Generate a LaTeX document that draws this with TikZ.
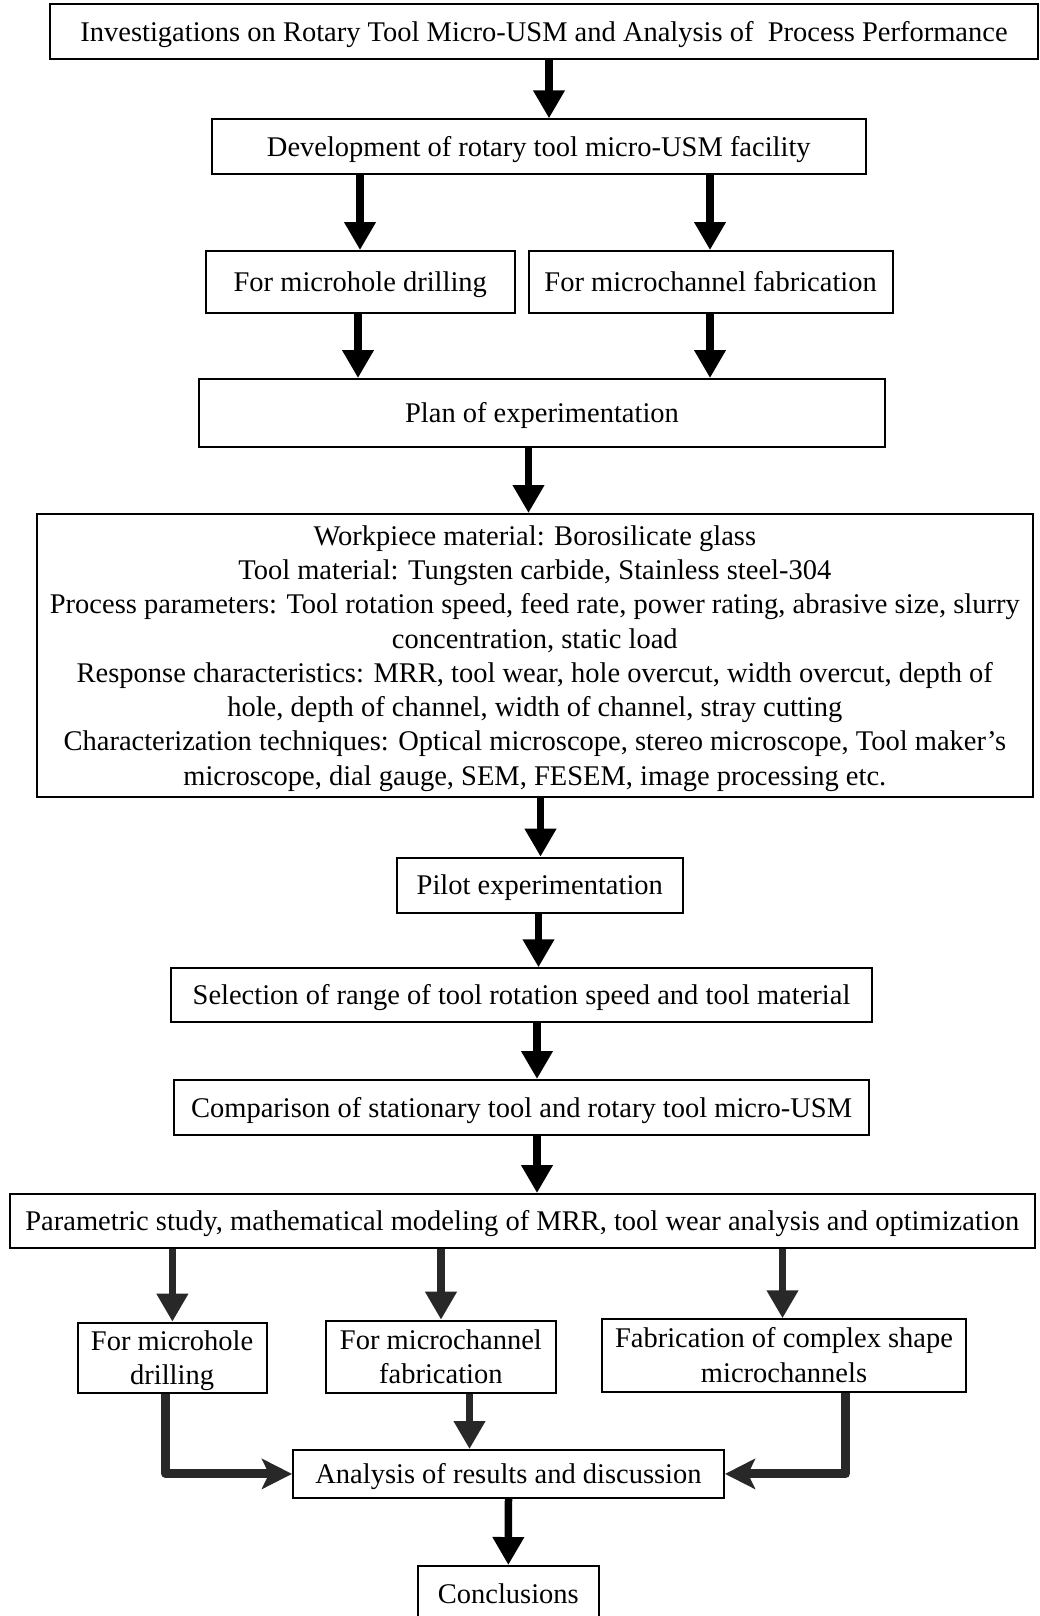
\documentclass[tikz,border=0pt]{standalone}
\usepackage{fontspec}
\setmainfont{Liberation Serif}
\usetikzlibrary{arrows.meta}
\definecolor{darkline}{RGB}{40,40,40}
\begin{document}
\begin{tikzpicture}[x=1pt,y=-1pt,
  box/.style={draw, line width=2pt, inner sep=0pt, align=center,
    font=\fontsize{28.5}{34.3}\selectfont,
    execute at begin node={\rule{0pt}{26pt}},
    execute at end node={\rule[-7pt]{0pt}{7pt}}},
  twoline/.style={box, text height=60.3pt, text depth=7pt},
  eightline/.style={box, text height=266.1pt, text depth=7pt},
  arr/.style={line width=7.5pt, -{Triangle[length=28pt,width=30pt]}},
  arrgray/.style={arr, draw=darkline},
  elbow/.style={line width=9pt, line join=round, draw=darkline,
    -{Stealth[length=30pt,width=30pt,inset=7pt]}}]
\useasboundingbox (0,0) rectangle (1040,1616);

% boxes
\node[box, minimum width=988pt, minimum height=55pt] (title) at (544,32)
  {Investigations on Rotary Tool Micro-USM and Analysis of\ \ Process Performance};
\node[box, minimum width=653.5pt, minimum height=54.7pt] (dev) at (538.8,146.7)
  {Development of rotary tool micro-USM facility};
\node[box, minimum width=309.4pt, minimum height=61.7pt] (hole) at (360.3,281.9)
  {For microhole drilling};
\node[box, minimum width=364.1pt, minimum height=61.7pt] (chan) at (710.6,281.9)
  {For microchannel fabrication};
\node[box, minimum width=686pt, minimum height=67.7pt] (plan) at (542,412.9)
  {Plan of experimentation};
\node[eightline, minimum width=996.5pt, minimum height=283.3pt] (details) at (534.8,655.7)
  {Workpiece material: Borosilicate glass\\
   Tool material: Tungsten carbide, Stainless steel-304\\
   Process parameters: Tool rotation speed, feed rate, power rating, abrasive size, slurry\\
   concentration, static load\\
   Response characteristics: MRR, tool wear, hole overcut, width overcut, depth of\\
   hole, depth of channel, width of channel, stray cutting\\
   Characterization techniques: Optical microscope, stereo microscope, Tool maker’s\\
   microscope, dial gauge, SEM, FESEM, image processing etc.};
\node[box, minimum width=286.4pt, minimum height=55pt] (pilot) at (539.8,885.2)
  {Pilot experimentation};
\node[box, minimum width=701pt, minimum height=54pt] (range) at (521.5,995.3)
  {Selection of range of tool rotation speed and tool material};
\node[box, minimum width=694.3pt, minimum height=55pt] (comp) at (521.6,1107.5)
  {Comparison of stationary tool and rotary tool micro-USM};
\node[box, minimum width=1024.5pt, minimum height=54.3pt] (param) at (522.3,1221.2)
  {Parametric study, mathematical modeling of MRR, tool wear analysis and optimization};
\node[twoline, minimum width=189pt, minimum height=70pt] (hole2) at (172.1,1357.7)
  {For microhole\\drilling};
\node[twoline, minimum width=229.7pt, minimum height=72pt] (chan2) at (440.9,1356.7)
  {For microchannel\\fabrication};
\node[twoline, minimum width=364pt, minimum height=72.4pt] (complex) at (784,1355.5)
  {Fabrication of complex shape\\microchannels};
\node[box, minimum width=431pt, minimum height=47.7pt] (results) at (508.5,1473.9)
  {Analysis of results and discussion};
\node[box, minimum width=181pt, minimum height=55pt] (concl) at (508.3,1593.5)
  {Conclusions};

% connectors
\draw[arr] ([xshift=5pt]title.south) -- ([xshift=10.2pt]dev.north);
\draw[arr] ([xshift=-178.8pt]dev.south) -- ([xshift=-0.3pt]hole.north);
\draw[arr] ([xshift=171.2pt]dev.south) -- ([xshift=-0.6pt]chan.north);
\draw[arr] ([xshift=-2.3pt]hole.south) -- ([xshift=-184pt]plan.north);
\draw[arr] ([xshift=-0.6pt]chan.south) -- ([xshift=168pt]plan.north);
\draw[arr] ([xshift=-13.5pt]plan.south) -- ([xshift=-6.3pt]details.north);
\draw[arr] ([xshift=5.7pt]details.south) -- ([xshift=0.7pt]pilot.north);
\draw[arr] ([xshift=-1.3pt]pilot.south) -- ([xshift=17pt]range.north);
\draw[arr] ([xshift=15.5pt]range.south) -- ([xshift=15.4pt]comp.north);
\draw[arr] ([xshift=15.4pt]comp.south) -- ([xshift=14.7pt]param.north);
\draw[arrgray] ([xshift=-349.9pt]param.south) -- ([xshift=0.3pt]hole2.north);
\draw[arrgray] ([xshift=-81.3pt]param.south) -- ([xshift=0.1pt]chan2.north);
\draw[arrgray] ([xshift=260.2pt]param.south) -- ([xshift=-1.5pt]complex.north);
\draw[arrgray] ([xshift=28.6pt]chan2.south) -- ([xshift=-39pt]results.north);
\draw[elbow] ([xshift=-6.3pt]hole2.south) |- (results.west);
\draw[elbow] ([xshift=61.5pt]complex.south) |- (results.east);
\draw[arr] (results.south) -- (concl.north);
\end{tikzpicture}
\end{document}
